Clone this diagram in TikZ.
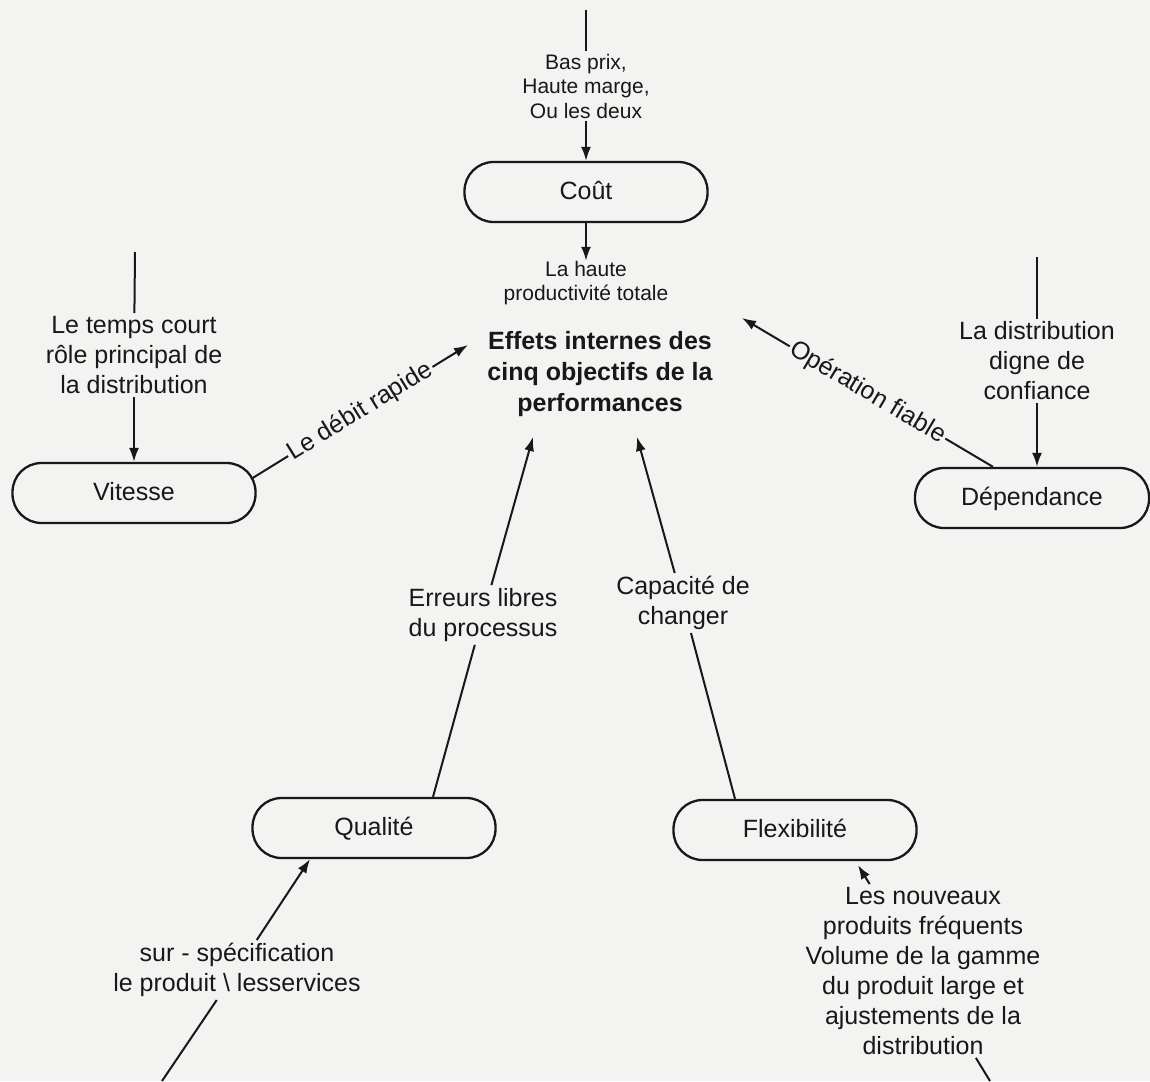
\documentclass[tikz,border=0pt]{standalone}
\usepackage{fontspec}
\setmainfont{Liberation Sans}
\usetikzlibrary{arrows.meta}
\definecolor{paper}{RGB}{243,243,242}
\definecolor{ink}{RGB}{24,24,24}
\tikzset{
  goal/.style={draw=ink, line width=2.3pt, rounded corners=29pt,
    minimum width=243pt, minimum height=60pt, text height=18pt, text depth=4pt,
    inner sep=0pt, font=\fontsize{25}{30}\selectfont, text=ink},
  note/.style={align=center, inner sep=3pt, font=\fontsize{25}{30}\selectfont, text=ink},
  smallnote/.style={align=center, inner sep=3pt, font=\fontsize{21}{24.5}\selectfont, text=ink},
  link/.style={draw=ink, line width=2pt},
  arr/.style={link, -{Latex[length=14pt,width=10pt]}},
  onlink/.style={sloped, fill=paper, inner sep=2pt, font=\fontsize{25}{30}\selectfont, text=ink}
}
\begin{document}
\begin{tikzpicture}[x=1pt,y=-1pt]
  \fill[paper] (0,0) rectangle (1150,1081);
  \useasboundingbox (0,0) rectangle (1150,1081);

  % objectives
  \node[goal] (cout) at (586,192) {Coût};
  \node[goal] (vit)  at (134,493) {Vitesse};
  \node[goal, minimum width=234pt] (dep) at (1032,498) {Dépendance};
  \node[goal] (qual) at (374,828) {Qualité};
  \node[goal] (flex) at (795,830) {Flexibilité};

  % central statement
  \node[note, font=\bfseries\fontsize{25}{31}\selectfont] (eff) at (600,374)
    {Effets internes des\\cinq objectifs de la\\performances};

  % external labels
  \node[smallnote] (lbas) at (586,86) {Bas prix,\\Haute marge,\\Ou les deux};
  \node[smallnote] (lhaute) at (586,283) {La haute\\productivité totale};
  \node[note] (ltemps) at (134,355) {Le temps court\\rôle principal de\\la distribution};
  \node[note] (ldist) at (1037,361) {La distribution\\digne de\\confiance};
  \node[note] (lerr) at (483,615) {Erreurs libres\\du processus};
  \node[note] (lcap) at (683,603) {Capacité de\\changer};
  \node[note] (lsur) at (237,970) {sur - spécification\\le produit \textbackslash\ lesservices};
  \node[note] (lnouv) at (923,971)
    {Les nouveaux\\produits fréquents\\Volume de la gamme\\du produit large et\\ajustements de la\\distribution};

  % free ends at the edges
  \coordinate (top1) at (586,10);
  \coordinate (top2) at (135,252);
  \coordinate (top3) at (1037,257);
  \coordinate (bot1) at (162,1081);
  \coordinate (bot2) at (990,1081);

  % cost
  \draw[link] (top1) -- (lbas);
  \draw[arr] (lbas) -- (cout);
  \draw[arr] (cout) -- ([yshift=-3pt]lhaute.north);

  % speed
  \draw[link] (top2) -- (ltemps);
  \draw[arr] (ltemps) -- (vit);
  \draw[arr] ([xshift=-4pt,yshift=15pt]vit.east)
    -- node[onlink]{Le débit rapide} ([shift={(-132,-29)}]eff.center);

  % dependability
  \draw[link] (top3) -- (ldist);
  \draw[arr] (ldist.south) -- (ldist.south |- dep.north);
  \draw[arr] ([xshift=-39pt]dep.north)
    -- node[onlink]{Opération fiable} ([shift={(142,-56)}]eff.center);

  % quality
  \draw[link] ([xshift=59pt]qual.north) -- (lerr);
  \draw[arr] (lerr) -- ([shift={(-67,63)}]eff.center);
  \draw[link] (bot1) -- (lsur);
  \draw[arr] (lsur) -- ([xshift=-64pt]qual.south);

  % flexibility
  \draw[link] ([xshift=-60pt]flex.north) -- (lcap);
  \draw[arr] (lcap) -- ([shift={(37,63)}]eff.center);
  \draw[link] (bot2) -- (lnouv);
  \draw[arr] (lnouv) -- ([xshift=63pt,yshift=-4pt]flex.south);
\end{tikzpicture}
\end{document}
